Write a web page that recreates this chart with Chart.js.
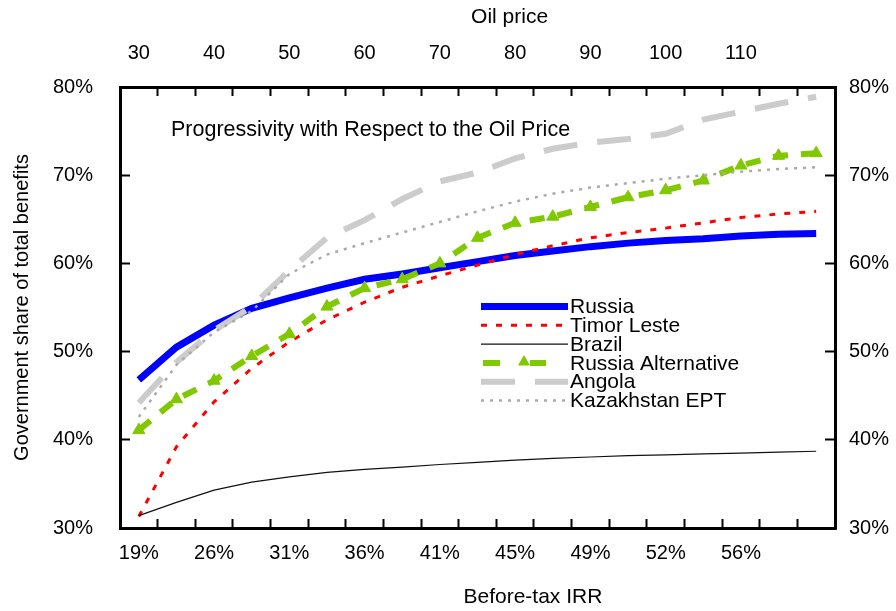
<!DOCTYPE html>
<html>
<head>
<meta charset="utf-8">
<title>Progressivity with Respect to the Oil Price</title>
<script src="https://cdn.jsdelivr.net/npm/chart.js@4.4.0/dist/chart.umd.min.js"></script>
<style>
  html, body { margin: 0; padding: 0; background: #fff; }
  #govShareChart { display: block; }
</style>
</head>
<body>
<canvas id="govShareChart" width="896" height="611"></canvas>
<script>
// 数据 (government share, %)
const oilPrices = [30, 35, 40, 45, 50, 55, 60, 65, 70, 75, 80, 85, 90, 95, 100, 105, 110, 115, 120];
const irrLabels = ['19%', '23%', '26%', '29%', '31%', '34%', '36%', '39%', '41%', '43%',
                   '45%', '47%', '49%', '51%', '52%', '54%', '56%', '57%', '59%'];
const shareTicks = [30, 40, 50, 60, 70, 80];

const seriesNames = ['Russia', 'Timor Leste', 'Brazil', 'Russia Alternative', 'Angola', 'Kazakhstan EPT'];

const russia      = [46.8, 50.5, 53.0, 54.9, 56.1, 57.2, 58.2, 58.8, 59.5, 60.2, 60.9, 61.4, 61.9, 62.3, 62.6, 62.8, 63.1, 63.3, 63.4];
const timorLeste  = [31.3, 39.2, 44.3, 48.1, 51.1, 53.6, 55.6, 57.3, 58.6, 59.8, 61.0, 62.0, 62.9, 63.5, 64.0, 64.6, 65.2, 65.6, 65.9];
const brazil      = [31.4, 32.9, 34.3, 35.2, 35.8, 36.3, 36.65, 36.9, 37.2, 37.45, 37.7, 37.9, 38.05, 38.2, 38.3, 38.4, 38.5, 38.6, 38.7];
const russiaAlt   = [41.1, 44.6, 46.7, 49.5, 52.0, 55.1, 57.2, 58.2, 60.0, 62.9, 64.6, 65.3, 66.4, 67.5, 68.3, 69.4, 71.1, 72.2, 72.5];
const angola      = [44.2, 48.8, 52.4, 55.1, 59.2, 62.9, 64.9, 67.3, 69.3, 70.3, 71.9, 73.0, 73.7, 74.1, 74.7, 76.3, 77.2, 78.1, 78.9];
const kazakhstan  = [42.6, 48.5, 52.2, 54.6, 58.8, 61.0, 62.3, 63.5, 64.7, 65.9, 67.0, 67.9, 68.6, 69.1, 69.6, 70.0, 70.4, 70.7, 70.9];

const FONT = "'Liberation Sans', Arial, Helvetica, sans-serif";
Chart.defaults.font.family = FONT;
Chart.defaults.color = '#000';

const tickFont = { family: FONT, size: 20 };
const titleFont = { family: FONT, size: 21 };

// every other category gets a label, the last one none
function showTick(i) {
    return i % 2 === 0 && i < oilPrices.length - 1;
}

function xAxis(position, labels, padding, height, title, titlePadding) {
    return {
        type: 'category',
        position: position,
        labels: labels,
        offset: true,
        grid: { offset: true, drawOnChartArea: false, tickLength: -9, tickWidth: 2, tickColor: '#000' },
        border: { display: true, color: '#000', width: 3 },
        ticks: {
            autoSkip: false,
            maxRotation: 0,
            padding: padding,
            font: tickFont,
            color: '#000',
            callback: function(value, index) {
                return showTick(index) ? this.getLabelForValue(value) : '';
            }
        },
        title: { display: true, text: title, font: titleFont, color: '#000', padding: titlePadding },
        afterFit: function(scale) { scale.height = height; }
    };
}

function yAxis(position, padding, width, title) {
    return {
        type: 'linear',
        position: position,
        min: shareTicks[0],
        max: shareTicks[shareTicks.length - 1],
        grid: { drawOnChartArea: false, tickLength: -10, tickWidth: 2, tickColor: '#000' },
        border: { display: true, color: '#000', width: 3 },
        ticks: {
            stepSize: 10,
            padding: padding,
            font: tickFont,
            color: '#000',
            callback: function(value) { return value + '%'; }
        },
        title: title
            ? { display: true, text: title, font: { family: FONT, size: 20 }, color: '#000', padding: { top: 10, bottom: 0 } }
            : { display: false },
        afterFit: function(scale) { scale.width = width; }
    };
}

function triangle(ctx, x, y, r) {
    ctx.beginPath();
    ctx.moveTo(x, y - r);
    ctx.lineTo(x + r * 0.866, y + r * 0.5);
    ctx.lineTo(x - r * 0.866, y + r * 0.5);
    ctx.closePath();
    ctx.fill();
}

// in-plot caption and legend, gnuplot style
const insidePlot = {
    id: 'insidePlot',
    afterDraw(chart) {
        const { ctx, chartArea } = chart;
        ctx.save();
        ctx.fillStyle = '#000';
        ctx.textBaseline = 'middle';
        ctx.textAlign = 'left';
        ctx.font = '21.5px ' + FONT;
        ctx.fillText('Progressivity with Respect to the Oil Price', chartArea.left + 51, chartArea.top + 43.5);

        ctx.font = '21px ' + FONT;
        const x0 = chartArea.left + 361;
        const x1 = chartArea.left + 448;
        chart.data.datasets.forEach((ds, i) => {
            const y = chartArea.top + 219.5 + i * 18.8;
            ctx.save();
            ctx.strokeStyle = ds.borderColor;
            ctx.lineWidth = ds.borderWidth;
            if (ds.pointStyle === 'triangle') {
                // dash, gap, marker, dash
                ctx.beginPath();
                ctx.moveTo(x0 + 2, y);
                ctx.lineTo(x0 + 19, y);
                ctx.moveTo(x0 + 49, y);
                ctx.lineTo(x0 + 65, y);
                ctx.stroke();
                ctx.fillStyle = ds.pointBackgroundColor;
                triangle(ctx, x0 + 43, y - 1, ds.pointRadius);
            } else {
                ctx.setLineDash(ds.borderDash || []);
                ctx.beginPath();
                ctx.moveTo(x0, y);
                ctx.lineTo(x1, y);
                ctx.stroke();
            }
            ctx.restore();
            ctx.fillText(seriesNames[i], x1 + 2, y + 1);
        });
        ctx.restore();
    }
};

const lineDefaults = { tension: 0, pointRadius: 0, fill: false, xAxisID: 'x', yAxisID: 'y' };

new Chart(document.getElementById('govShareChart'), {
    type: 'line',
    data: {
        labels: oilPrices,
        datasets: [
            Object.assign({}, lineDefaults, {
                label: seriesNames[0], data: russia,
                borderColor: '#0000ff', borderWidth: 7, order: 6
            }),
            Object.assign({}, lineDefaults, {
                label: seriesNames[1], data: timorLeste,
                borderColor: '#ff0000', borderWidth: 3, borderDash: [6, 9], order: 5
            }),
            Object.assign({}, lineDefaults, {
                label: seriesNames[2], data: brazil,
                borderColor: '#111111', borderWidth: 1.2, order: 4
            }),
            Object.assign({}, lineDefaults, {
                label: seriesNames[3], data: russiaAlt,
                borderColor: '#80c800', borderWidth: 6, borderDash: [15, 13],
                pointStyle: 'triangle', pointRadius: 7,
                pointBackgroundColor: '#80c800', pointBorderColor: '#80c800', pointBorderWidth: 1,
                order: 3
            }),
            Object.assign({}, lineDefaults, {
                label: seriesNames[4], data: angola,
                borderColor: '#cccccc', borderWidth: 6, borderDash: [34, 20], order: 2
            }),
            Object.assign({}, lineDefaults, {
                label: seriesNames[5], data: kazakhstan,
                borderColor: '#aaaaaa', borderWidth: 2.5, borderDash: [3, 6], order: 1
            })
        ]
    },
    options: {
        responsive: false,
        animation: false,
        layout: { padding: 0 },
        plugins: {
            legend: { display: false },
            tooltip: { enabled: false }
        },
        scales: {
            x: xAxis('bottom', irrLabels, 22, 83, ' '.repeat(19) + 'Before-tax IRR', { top: 0, bottom: 1 }),
            xTop: xAxis('top', oilPrices.map(String), 31, 87, ' '.repeat(11) + 'Oil price', { top: 5, bottom: 0 }),
            y: yAxis('left', 37, 120, 'Government share of total benefits'),
            yRight: yAxis('right', 24, 61, null)
        }
    },
    plugins: [insidePlot]
});
</script>
</body>
</html>
